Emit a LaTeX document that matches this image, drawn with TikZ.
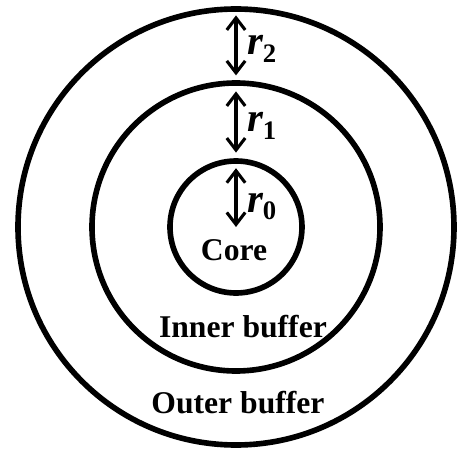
\documentclass[tikz,border=0pt]{standalone}
\usepackage{fontspec}
\setmainfont{Liberation Serif}
\usetikzlibrary{arrows.meta,positioning,calc}

\newcommand{\rlab}[1]{{\fontsize{29}{31}\selectfont\bfseries\itshape r}%
\raisebox{-0.2cm}{\fontsize{19}{21}\selectfont\bfseries #1}}

\begin{document}
\begin{tikzpicture}[
            ring/.style={
                    draw=black,
                    circle,
                    line width=4pt,
                    outer sep=0pt,
                    inner sep=0pt
                },
            dimarrow/.style={
                    {Straight Barb[length=0.3cm,width=0.46cm,line width=2.2pt]}-{Straight Barb[length=0.3cm,width=0.46cm,line width=2.2pt]},
                    line width=2.2pt
                },
            zonelabel/.style={
                    font=\fontsize{22.5}{26}\selectfont\bfseries,
                    anchor=base,
                    inner sep=0pt
                },
            radlabel/.style={
                    anchor=base west,
                    inner sep=0pt
                }
            ]

            \useasboundingbox (-5.9,-5.55) rectangle (5.7,5.675);

            % Rings
            \node[ring, minimum size=10.9cm] (outer) at (0,0) {};
            \node[ring, minimum size=7.2cm] (inner) at (0,0) {};
            \node[ring, minimum size=3.3cm] (core) at (0,0) {};

            % Radii
            \draw[dimarrow] ([yshift=-0.16cm]outer.north) -- ([yshift=0.19cm]inner.north);
            \draw[dimarrow] ([yshift=-0.21cm]inner.north) -- ([yshift=0.21cm]core.north);
            \draw[dimarrow] ([yshift=-0.18cm]core.north) -- (core.center);

            \node[radlabel] (labTwo) at (0.27,4.3) {\rlab{2}};
            \node[radlabel] (labOne) at (0.27,2.375) {\rlab{1}};
            \node[radlabel] (labZero) at (0.27,0.375) {\rlab{0}};

            % Zones
            \node[zonelabel] (coreText) at (-0.05,-0.825) {Core};
            \node[zonelabel] (innerText) at (0.175,-2.75) {Inner buffer};
            \node[zonelabel] (outerText) at (0.05,-4.65) {Outer buffer};

        \end{tikzpicture}
\end{document}
